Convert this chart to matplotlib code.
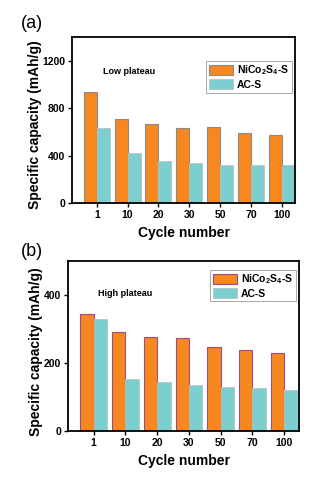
import matplotlib
matplotlib.use('Agg')
import matplotlib.pyplot as plt
import numpy as np

plt.rcParams['font.family'] = 'Liberation Sans'
plt.rcParams['font.weight'] = 'bold'
plt.rcParams['mathtext.fontset'] = 'custom'
plt.rcParams['mathtext.rm'] = 'Liberation Sans:bold'
plt.rcParams['mathtext.default'] = 'rm'

cycles = ['1', '10', '20', '30', '50', '70', '100']

# low plateau capacity (mAh/g)
low_nico = [938, 711, 666, 635, 638, 593, 570]
low_ac = [629, 419, 357, 334, 317, 317, 323]

# high plateau capacity (mAh/g)
high_nico = [344, 290, 278, 273, 246, 237, 231]
high_ac = [329, 154, 143, 135, 130, 127, 121]

orange = '#f7871f'
teal = '#7dcfcf'

fig = plt.figure(figsize=(3.22, 4.79), dpi=100)
ax1 = fig.add_axes([0.224, 0.576, 0.692, 0.347])
ax2 = fig.add_axes([0.211, 0.100, 0.718, 0.355])

x = np.arange(len(cycles))
w = 0.42

def panel(ax, nico, ac, ylim, yticks, edge, note, note_xy, leg_anchor, ylab_xy):
    ax.bar(x - w / 2, nico, w, color=orange, edgecolor=edge, linewidth=0.8,
           label=r'NiCo$_2$S$_4$-S')
    ax.bar(x + w / 2, ac, w, color=teal, edgecolor='#b5c5c5', linewidth=0.6,
           label='AC-S')
    ax.set_ylim(*ylim)
    ax.set_yticks(yticks)
    ax.set_xticks(x)
    ax.set_xticklabels(cycles)
    for s in ax.spines.values():
        s.set_linewidth(1.3)
    ax.tick_params(labelsize=7.5, width=1, length=3, pad=2)
    ax.set_ylabel('Specific capacity (mAh/g)', fontsize=10, fontweight='bold')
    ax.yaxis.set_label_coords(*ylab_xy)
    ax.set_xlabel('Cycle number', fontsize=10, fontweight='bold', labelpad=4)
    ax.text(note_xy[0], note_xy[1], note, transform=ax.transAxes, fontsize=6.5,
            fontweight='bold', va='center')
    leg = ax.legend(loc='upper right', bbox_to_anchor=leg_anchor, fontsize=7.5,
                    fancybox=False, framealpha=1, edgecolor='#999999',
                    handlelength=2.3, handleheight=1.1, borderpad=0.25,
                    labelspacing=0.2, handletextpad=0.4, borderaxespad=0)
    leg.get_frame().set_linewidth(0.6)

panel(ax1, low_nico, low_ac, (0, 1400), [0, 400, 800, 1200], '#8a8a8a',
      'Low plateau', (0.14, 0.79), (0.985, 0.855), (-0.135, 0.47))
ax1.set_xlim(-0.8, 6.43)

panel(ax2, high_nico, high_ac, (0, 500), [0, 200, 400], '#a04a86',
      'High plateau', (0.13, 0.81), (0.985, 0.95), (-0.108, 0.47))
ax2.set_xlim(-0.81, 6.47)

fig.text(0.10, 0.950, '(a)', fontsize=13, fontweight='normal', ha='center', va='center')
fig.text(0.10, 0.475, '(b)', fontsize=13, fontweight='normal', ha='center', va='center')

fig.savefig('out.png', dpi=100)
